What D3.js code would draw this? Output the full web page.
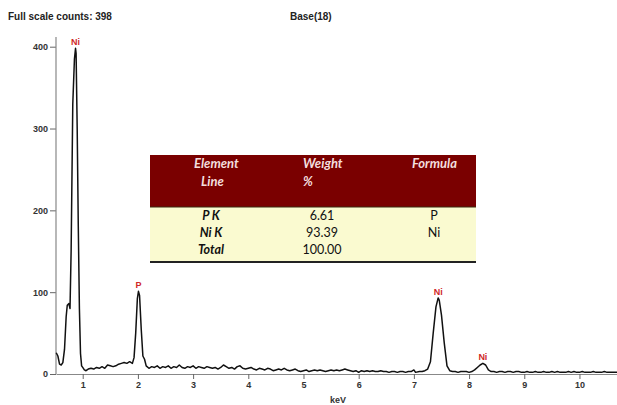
<!DOCTYPE html>
<html>
<head>
<meta charset="utf-8">
<script src="https://cdn.jsdelivr.net/npm/d3@7"></script>
<style>
html,body{margin:0;padding:0;background:#fff;}
svg{display:block;}
</style>
</head>
<body>
<svg id="chart" width="617" height="405"></svg>
<script>
// ---- data ----
const titleLeft = "Full scale counts: 398";
const titleMid = "Base(18)";
const xLabel = "keV";
const xTicks = [1,2,3,4,5,6,7,8,9,10];
const yTicks = [0,100,200,300,400];

const energy = [0.52,0.55,0.58,0.61,0.64,0.67,0.70,0.72,0.75,0.77,0.79,0.82,0.85,0.87,0.88,0.90,0.92,0.94,0.96,0.98,
1.00,1.03,1.06,1.10,1.15,1.20,1.25,1.30,1.35,1.40,1.45,1.50,1.55,1.60,1.65,1.70,1.75,1.80,1.85,1.90,
1.93,1.96,1.99,2.01,2.03,2.06,2.09,2.12,2.15,2.20,2.25,2.30,2.35,2.40,2.45,2.50,2.55,2.60,2.65,2.70,
2.75,2.80,2.85,2.90,2.95,3.00,3.05,3.10,3.15,3.20,3.25,3.30,3.35,3.40,3.45,3.50,3.55,3.60,3.65,3.70,
3.75,3.80,3.85,3.90,3.95,4.00,4.05,4.10,4.15,4.20,4.25,4.30,4.35,4.40,4.45,4.50,4.55,4.60,4.65,4.70,
4.75,4.80,4.85,4.90,4.95,5.00,5.05,5.10,5.15,5.20,5.25,5.30,5.35,5.40,5.45,5.50,5.55,5.60,5.65,5.70,
5.75,5.80,5.85,5.90,5.95,6.00,6.05,6.10,6.15,6.20,6.25,6.30,6.35,6.40,6.45,6.50,6.55,6.60,6.65,6.70,
6.75,6.80,6.85,6.90,6.95,7.00,7.03,7.10,7.15,7.20,7.25,7.30,7.35,7.40,7.44,7.46,7.50,7.55,7.60,7.65,
7.70,7.75,7.80,7.85,7.90,7.95,8.00,8.05,8.10,8.15,8.20,8.25,8.30,8.35,8.40,8.45,8.50,8.55,8.60,8.65,
8.70,8.75,8.80,8.85,8.90,8.95,9.00,9.05,9.10,9.15,9.20,9.25,9.30,9.35,9.40,9.45,9.50,9.55,9.60,9.65,
9.70,9.75,9.80,9.85,9.90,9.95,10.00,10.05,10.10,10.15,10.20,10.25,10.30,10.35,10.40,10.45,10.50,10.55,10.60,10.65,10.70];

const counts = [26,22,12,11,14,30,70,84,86,80,150,330,385,398,392,300,180,80,25,10,
8,5,4,6,7,6,8,7,9,7,11,10,9,10,12,13,14,13,15,13,
20,50,92,101,96,55,22,18,10,7,9,8,10,7,9,8,10,7,9,8,
11,8,7,9,8,10,7,9,8,7,9,8,7,8,6,8,11,9,7,8,
6,9,10,7,6,7,8,6,5,7,6,5,7,6,4,5,6,5,7,5,
4,5,6,4,3,4,5,3,4,5,4,5,4,3,4,5,4,5,4,5,
6,5,4,3,4,2,4,3,4,3,4,3,3,4,3,3,2,3,3,2,
3,3,2,3,3,5,2,3,3,4,6,15,50,82,93,90,72,38,10,4,
3,3,2,3,3,3,2,3,5,8,11,13,11,5,3,3,2,3,3,2,
3,3,2,3,3,2,2,3,2,2,3,2,2,3,2,2,3,2,3,2,
2,2,3,2,3,2,2,3,2,2,2,3,2,2,2,3,2,2,2,2,2];

const peakNames = ["Ni","P","Ni","Ni"];
const peakEnergy = [0.87,2.01,7.44,8.25];
const peakCounts = [398,101,93,13];

const tableHeader1 = ["Element","Weight","Formula"];
const tableHeader2 = ["Line","%",""];
const rowLine = ["P K","Ni K","Total"];
const rowWeight = ["6.61","93.39","100.00"];
const rowFormula = ["P","Ni",""];

// ---- drawing ----
const svg = d3.select("#chart");
const x = d3.scaleLinear().domain([0.516, 10.68]).range([56, 617]);
const y = d3.scaleLinear().domain([0, 400]).range([374, 46.7]);

svg.append("text").attr("x", 8).attr("y", 20)
  .attr("font-family", "Liberation Sans, Arial, sans-serif").attr("font-size", 10).attr("font-weight", "bold")
  .attr("fill", "#222").text(titleLeft);
svg.append("text").attr("x", 290).attr("y", 20)
  .attr("font-family", "Liberation Sans, Arial, sans-serif").attr("font-size", 10).attr("font-weight", "bold")
  .attr("fill", "#222").text(titleMid);

// axes
const yAxis = d3.axisLeft(y).tickValues(yTicks).tickSize(6).tickPadding(2).tickSizeOuter(0);
const gy = svg.append("g").attr("transform", "translate(56,0)").call(yAxis);
gy.select(".domain").remove();
svg.append("line").attr("x1", 56).attr("x2", 56).attr("y1", 37).attr("y2", 374)
  .attr("stroke", "#888").attr("stroke-width", 1.2);

const xAxis = d3.axisBottom(x).tickValues(xTicks).tickSize(5).tickPadding(3).tickSizeOuter(0);
const gx = svg.append("g").attr("transform", "translate(0,374)").call(xAxis);
gx.select(".domain").attr("stroke", "#888").attr("stroke-width", 1.2);

[gx, gy].forEach(g => {
  g.selectAll(".tick line").attr("stroke", "#666").attr("stroke-width", 1);
  g.selectAll(".tick text").attr("font-family", "Liberation Sans, Arial, sans-serif")
    .attr("font-size", 9).attr("font-weight", "bold").attr("fill", "#333");
});

svg.append("text").attr("x", 338).attr("y", 403).attr("text-anchor", "middle")
  .attr("font-family", "Liberation Sans, Arial, sans-serif").attr("font-size", 9).attr("font-weight", "bold")
  .attr("fill", "#333").text(xLabel);

// spectrum
const pts = energy.map((e, i) => [e, counts[i]]);
const line = d3.line().x(d => x(d[0])).y(d => y(d[1]));
svg.append("path").datum(pts).attr("d", line)
  .attr("fill", "none").attr("stroke", "#111").attr("stroke-width", 1.5).attr("stroke-linejoin", "round");

// peak labels
peakNames.forEach((n, i) => {
  svg.append("text").attr("x", x(peakEnergy[i])).attr("y", y(peakCounts[i]) - 3)
    .attr("text-anchor", "middle").attr("font-family", "Liberation Sans, Arial, sans-serif")
    .attr("font-size", 9).attr("font-weight", "bold").attr("fill", "#d02828").text(n);
});

// table
const tx0 = 150, tx1 = 476, hy0 = 155, hy1 = 207, by1 = 261;
svg.append("rect").attr("x", tx0).attr("y", hy0).attr("width", tx1 - tx0).attr("height", hy1 - hy0).attr("fill", "#7a0000");
svg.append("rect").attr("x", tx0).attr("y", hy1).attr("width", tx1 - tx0).attr("height", by1 - hy1).attr("fill", "#fafad0");
svg.append("line").attr("x1", tx0).attr("x2", tx1).attr("y1", hy1).attr("y2", hy1).attr("stroke", "#3a2a10").attr("stroke-width", 1);
svg.append("line").attr("x1", tx0).attr("x2", tx1).attr("y1", by1 + 1).attr("y2", by1 + 1).attr("stroke", "#222").attr("stroke-width", 2);

const font = "Lato, Open Sans, sans-serif";
const hx = [194, 303, 412];
tableHeader1.forEach((t, i) => {
  svg.append("text").attr("x", hx[i]).attr("y", 168).attr("font-family", font).attr("font-size", 13)
    .attr("font-style", "italic").attr("font-weight", "bold").attr("fill", "#f3dede").text(t);
});
tableHeader2.forEach((t, i) => {
  svg.append("text").attr("x", hx[i] + (i === 0 ? 7 : 0)).attr("y", 186).attr("font-family", font).attr("font-size", 13)
    .attr("font-style", "italic").attr("font-weight", "bold").attr("fill", "#f3dede").text(t);
});
const ry = [220, 237, 254];
rowLine.forEach((t, i) => {
  svg.append("text").attr("x", 211).attr("y", ry[i]).attr("text-anchor", "middle").attr("font-family", font)
    .attr("font-size", 12.5).attr("font-style", "italic").attr("font-weight", "bold").attr("fill", "#111").text(t);
});
rowWeight.forEach((t, i) => {
  svg.append("text").attr("x", 322).attr("y", ry[i]).attr("text-anchor", "middle").attr("font-family", font)
    .attr("font-size", 12.5).attr("fill", "#111").text(t);
});
rowFormula.forEach((t, i) => {
  svg.append("text").attr("x", 434).attr("y", ry[i]).attr("text-anchor", "middle").attr("font-family", font)
    .attr("font-size", 12.5).attr("fill", "#111").text(t);
});
</script>
</body>
</html>
